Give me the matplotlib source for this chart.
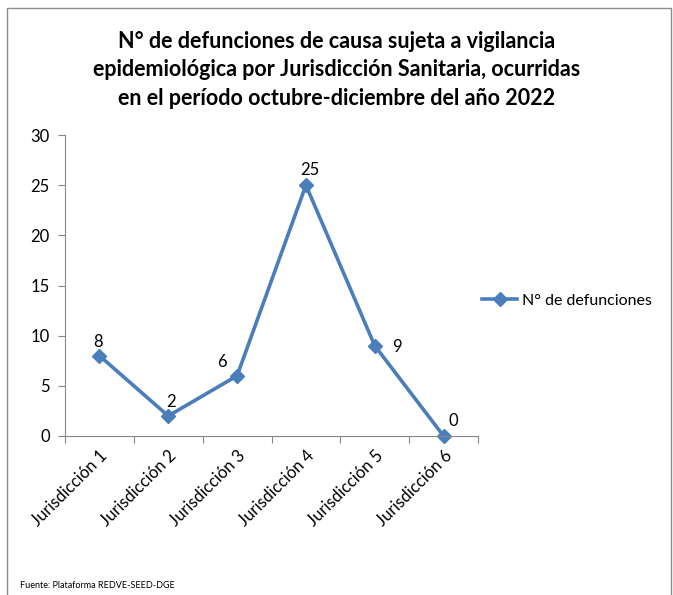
import matplotlib
matplotlib.use('Agg')
import matplotlib.pyplot as plt
from matplotlib.patches import Rectangle

categorias = ['Jurisdicción 1', 'Jurisdicción 2', 'Jurisdicción 3',
              'Jurisdicción 4', 'Jurisdicción 5', 'Jurisdicción 6']
defunciones = [8, 2, 6, 25, 9, 0]
serie = 'N° de defunciones'
titulo = ('N° de defunciones de causa sujeta a vigilancia\n'
          'epidemiológica por Jurisdicción Sanitaria, ocurridas\n'
          'en el período octubre-diciembre del año 2022')
fuente = 'Fuente: Plataforma REDVE-SEED-DGE'

plt.rcParams['font.family'] = ['Lato', 'DejaVu Sans']
azul = '#4A7EBB'
gris = '#868686'

fig = plt.figure(figsize=(6.73, 5.95), dpi=100)
fig.patches.append(Rectangle((7 / 673, -0.01), 664 / 673, 1 - 8 / 595 + 0.01,
                             transform=fig.transFigure, fill=False,
                             edgecolor='#8c8c8c', linewidth=1))

ax = fig.add_axes([65 / 673, 1 - 436 / 595, 413 / 673, 301 / 595])
x = range(len(categorias))
ax.plot(x, defunciones, color=azul, linewidth=2.6, marker='D', markersize=7,
        label=serie, clip_on=False)

# posiciones de las etiquetas de datos (desplazamiento en puntos)
desplazamientos = [(-1, 10), (2, 10), (-11, 10), (3, 11), (16, -1), (7, 11)]
for i, (v, d) in enumerate(zip(defunciones, desplazamientos)):
    ax.annotate(str(v), (i, v), xytext=d, textcoords='offset points',
                ha='center', va='center', fontsize=12)

ax.set_xlim(-0.5, len(categorias) - 0.5)
ax.set_ylim(0, 30)
ax.set_yticks(range(0, 31, 5))
ax.set_xticks([i - 0.5 for i in range(len(categorias) + 1)])
ax.set_xticklabels([])
ax.set_xticks(list(x), minor=True)
ax.set_xticklabels(categorias, minor=True, rotation=45, ha='right',
                   rotation_mode='anchor', fontsize=12)
ax.tick_params(axis='x', which='minor', length=0, pad=8)
ax.tick_params(axis='x', which='major', length=5, color=gris)
ax.tick_params(axis='y', length=5, color=gris, labelsize=12, pad=6)

for s in ['top', 'right']:
    ax.spines[s].set_visible(False)
for s in ['left', 'bottom']:
    ax.spines[s].set_color(gris)

ax.legend(loc='center left', bbox_to_anchor=(0.975, 0.45), frameon=False,
          fontsize=11.5, handlelength=2.2, handletextpad=0.3)

fig.text(0.5, 1 - 70 / 595, titulo, ha='center', va='center',
         fontsize=15.5, fontweight='bold', linespacing=1.45)
fig.text(20 / 673, 1 - 586 / 595, fuente, fontsize=6.5, va='center')

fig.savefig('out.png', dpi=100)
